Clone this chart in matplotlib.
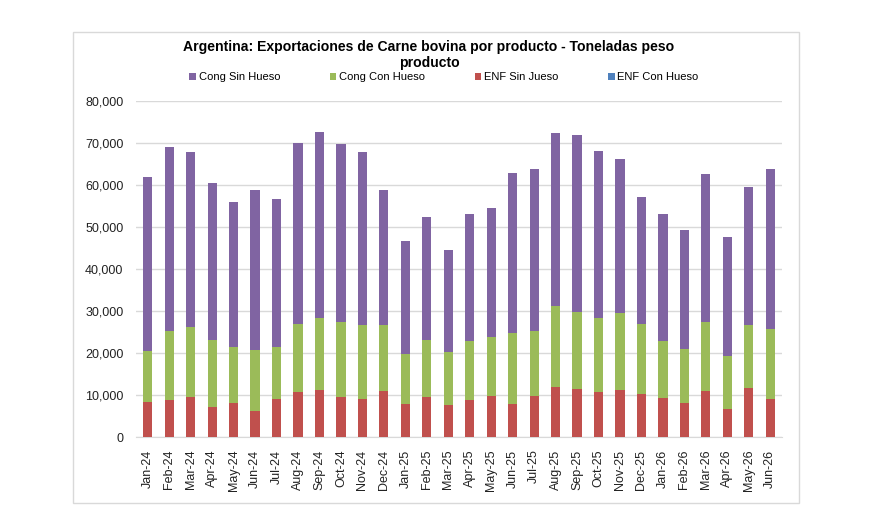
import matplotlib
matplotlib.use("Agg")
import matplotlib.pyplot as plt
from matplotlib.patches import Rectangle
from matplotlib.ticker import FuncFormatter, MultipleLocator
import numpy as np

plt.rcParams['font.family'] = ['Liberation Sans', 'DejaVu Sans']

months = ["Jan-24", "Feb-24", "Mar-24", "Apr-24", "May-24", "Jun-24", "Jul-24", "Aug-24",
          "Sep-24", "Oct-24", "Nov-24", "Dec-24", "Jan-25", "Feb-25", "Mar-25", "Apr-25",
          "May-25", "Jun-25", "Jul-25", "Aug-25", "Sep-25", "Oct-25", "Nov-25", "Dec-25",
          "Jan-26", "Feb-26", "Mar-26", "Apr-26", "May-26", "Jun-26"]

# tonnes
enf_sin_jueso = [8250, 8900, 9600, 7100, 8000, 6300, 9100, 10600, 11300, 9600, 9100, 11000,
                 7900, 9600, 7600, 8700, 9800, 7900, 9800, 12000, 11500, 10600, 11300, 10300,
                 9400, 8200, 10900, 6600, 11700, 9000]
cong_con_hueso = [12150, 16400, 16500, 15900, 13400, 14300, 12300, 16200, 17100, 17700, 17600, 15600,
                  11900, 13600, 12700, 14200, 13900, 16900, 15500, 19300, 18300, 17700, 18200, 16500,
                  13500, 12700, 16600, 12800, 15000, 16600]
cong_sin_hueso = [41400, 43800, 41800, 37400, 34500, 38300, 35300, 43300, 44300, 42500, 41100, 32300,
                  26900, 29200, 24200, 30100, 30800, 38100, 38400, 41200, 42100, 39900, 36800, 30300,
                  30300, 28500, 35200, 28200, 32900, 38300]
enf_con_hueso = [0, 0, 0, 0, 0, 0, 0, 0, 0, 0, 0, 0, 0, 0, 0,
                 0, 0, 0, 0, 0, 0, 0, 0, 0, 0, 0, 0, 0, 0, 0]

title = "Argentina: Exportaciones de Carne bovina por producto - Toneladas peso\nproducto"

C_PURPLE = "#8064A2"
C_GREEN = "#9BBB59"
C_RED = "#C0504D"
C_BLUE = "#4F81BD"

fig = plt.figure(figsize=(8.7, 5.31), dpi=100)
fig.patch.set_facecolor("white")
fig.add_artist(Rectangle((73 / 870, 1 - 503 / 531), 726 / 870, 471 / 531,
                         transform=fig.transFigure, fill=False, edgecolor="#d9d9d9", lw=1.0))

ax = fig.add_axes([136 / 870, 1 - 437 / 531, (782 - 136) / 870, (437 - 101) / 531])
x = np.arange(len(months))
w = 0.43
red = np.array(enf_sin_jueso)
green = np.array(cong_con_hueso)
purple = np.array(cong_sin_hueso)
blue = np.array(enf_con_hueso)

b_blue = ax.bar(x, blue, w, color=C_BLUE, label="ENF Con Hueso", zorder=3)
b_red = ax.bar(x, red, w, bottom=blue, color=C_RED, label="ENF Sin Jueso", zorder=3)
b_green = ax.bar(x, green, w, bottom=blue + red, color=C_GREEN, label="Cong Con Hueso", zorder=3)
b_purple = ax.bar(x, purple, w, bottom=blue + red + green, color=C_PURPLE, label="Cong Sin Hueso", zorder=3)

ax.set_xlim(-0.55, len(months) - 0.45)
ax.set_ylim(0, 80000)
ax.yaxis.set_major_locator(MultipleLocator(10000))
ax.yaxis.set_major_formatter(FuncFormatter(lambda v, p: f"{int(v):,}"))
ax.grid(axis="y", color="#d9d9d9", lw=1.0, zorder=0)
ax.set_axisbelow(True)
for s in ["top", "right", "left"]:
    ax.spines[s].set_visible(False)
ax.spines["bottom"].set_color("#d9d9d9")
ax.set_xticks(x)
ax.set_xticklabels(months, rotation=90)
ax.tick_params(axis="x", length=0, pad=9, labelsize=9, colors="#222222")
ax.tick_params(axis="y", length=0, pad=9, labelsize=9, colors="#222222")

fig.text(429 / 870, 1 - 55 / 531, title, ha="center", va="center", fontsize=10.1,
         fontweight="bold", linespacing=1.25)

leg = fig.legend(handles=[b_purple, b_green, b_red, b_blue], loc="center",
                 bbox_to_anchor=(444 / 870, 1 - 77 / 531), ncol=4, frameon=False,
                 fontsize=8, handlelength=0.6, handleheight=0.6, handletextpad=0.25,
                 columnspacing=4.45)

fig.savefig("out.png", dpi=100)
